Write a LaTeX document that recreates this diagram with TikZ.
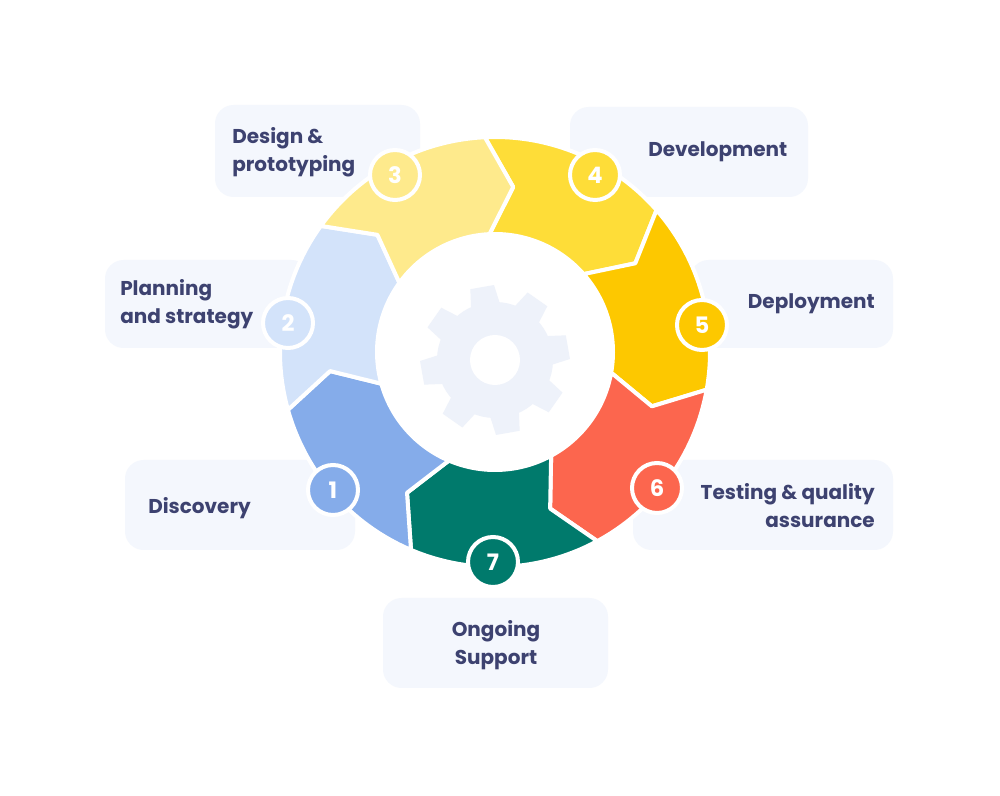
\documentclass[tikz,border=0pt]{standalone}
\usepackage{fontspec}
\setmainfont{Poppins}
\definecolor{txt}{HTML}{3D4270}
\definecolor{boxc}{HTML}{F4F7FD}
\definecolor{gearc}{HTML}{EEF2FA}
\definecolor{c1}{HTML}{85ACEA}
\definecolor{c2}{HTML}{D3E3FA}
\definecolor{c3}{HTML}{FEEA8C}
\definecolor{c4}{HTML}{FEDD38}
\definecolor{c5}{HTML}{FDC800}
\definecolor{c6}{HTML}{FC664E}
\definecolor{c7}{HTML}{007A6C}
\tikzset{
  lbl/.style={font=\bfseries\fontsize{15}{21}\selectfont, text=txt, inner sep=0pt},
  numc/.style={circle, minimum size=37.5pt, draw=white, line width=3pt, text=white, font=\bfseries\fontsize{17}{17}\selectfont},
  seg/.style={draw=white, line width=3pt, line join=round},
  lbox/.style={fill=boxc, rounded corners=14pt}
}
\newcommand{\segm}[3]{% start angle, end angle, colour
  \fill[#3, seg] (#1:215) arc[start angle=#1, end angle=#2, radius=215]
   -- ({#2-9}:166) -- (#2:118) arc[start angle=#2, end angle=#1, radius=118]
   -- ({#1-9}:166) -- cycle;}
\begin{document}
\begin{tikzpicture}[x=0.75pt,y=0.75pt]
\useasboundingbox (0,0) rectangle (1000,796);
\fill[white] (0,0) rectangle (1000,796);
% label boxes
\fill[lbox] (215,691) rectangle (420,599);
\fill[lbox] (570,689) rectangle (808,599);
\fill[lbox] (690,536) rectangle (893,448);
\fill[lbox] (633,336) rectangle (893,246);
\fill[lbox] (383,198) rectangle (608,108);
\fill[lbox] (125,336) rectangle (355,246);
\fill[lbox] (105,536) rectangle (310,448);
% ring
\begin{scope}[shift={(495,444)}]
\segm{92.7}{41.3}{c4}
\segm{41.3}{-10.1}{c5}
\segm{-10.1}{-61.6}{c6}
\segm{-61.6}{-113}{c7}
\segm{-113}{-164.4}{c1}
\segm{-164.4}{-215.9}{c2}
\segm{-215.9}{-267.3}{c3}
\end{scope}
% gear
\begin{scope}[shift={(495,436)}, rotate=10]
\foreach \a in {0,45,...,315}
  \fill[gearc, rotate=\a] (-15,52) -- (-12,74) -- (12,74) -- (15,52) -- cycle;
\fill[gearc] (0,0) circle (58);
\fill[white] (0,0) circle (25);
\end{scope}
% numbers
\node[numc, fill=c3] (n3) at (395,621) {3};
\node[numc, fill=c4] (n4) at (595,621) {4};
\node[numc, fill=c5] (n5) at (702,471) {5};
\node[numc, fill=c6] (n6) at (657,308) {6};
\node[numc, fill=c7] (n7) at (493,234) {7};
\node[numc, fill=c1] (n1) at (333,306) {1};
\node[numc, fill=c2] (n2) at (288,473) {2};
% labels
\node[lbl, anchor=west, align=left] (t3) at (232,644) {Design \&\\prototyping};
\node[lbl, anchor=west] (t4) at (648,644) {Development};
\node[lbl, anchor=east] (t5) at (875,492) {Deployment};
\node[lbl, anchor=east, align=right] (t6) at (875,290) {Testing \& quality\\assurance};
\node[lbl, align=center] (t7) at (496,151) {Ongoing\\Support};
\node[lbl, anchor=west] (t1) at (148,288) {Discovery};
\node[lbl, anchor=west, align=left] (t2) at (120,492) {Planning\\and strategy};
\end{tikzpicture}
\end{document}
